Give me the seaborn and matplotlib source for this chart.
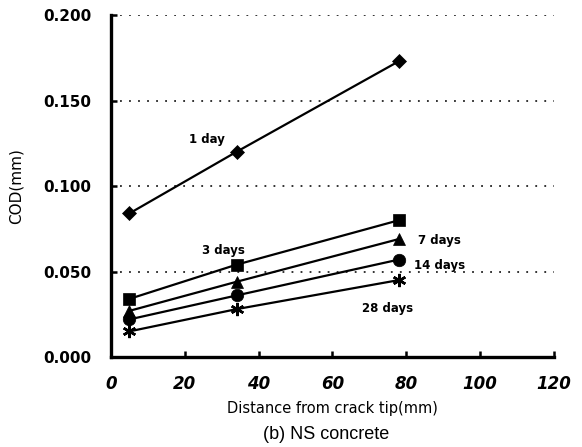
import numpy as np
import pandas as pd
import matplotlib
matplotlib.use("Agg")
import matplotlib.pyplot as plt
import seaborn as sns

# Data
distance = [5, 34, 78]
cod_1day = [0.084, 0.120, 0.173]
cod_3days = [0.034, 0.054, 0.080]
cod_7days = [0.027, 0.044, 0.069]
cod_14days = [0.022, 0.036, 0.057]
cod_28days = [0.015, 0.028, 0.045]
series_names = ["1 day", "3 days", "7 days", "14 days", "28 days"]
x_ticks = [0, 20, 40, 60, 80, 100, 120]
y_ticks = [0.0, 0.05, 0.10, 0.15, 0.20]

series_vals = [cod_1day, cod_3days, cod_7days, cod_14days, cod_28days]
df = pd.DataFrame({
    "x": np.tile(distance, len(series_names)),
    "y": np.concatenate(series_vals),
    "series": np.repeat(series_names, len(distance)),
})

sns.set_style("white")
plt.rcParams["font.family"] = ["DejaVu Sans"]
plt.rcParams["text.color"] = "black"
plt.rcParams["axes.labelcolor"] = "black"
plt.rcParams["xtick.color"] = "black"
plt.rcParams["ytick.color"] = "black"

fig = plt.figure(figsize=(5.82, 4.47), dpi=100)
ax = fig.add_axes([0.1907, 0.2013, 0.7612, 0.7651])

markers = {"1 day": "D", "3 days": "s", "7 days": "^", "14 days": "o", "28 days": (6, 2, 0)}
sizes = {"1 day": 7, "3 days": 8.5, "7 days": 8.5, "14 days": 9, "28 days": 9.5}
for name in series_names:
    sub = df[df["series"] == name]
    sns.lineplot(data=sub, x="x", y="y", ax=ax, color="black", linewidth=1.6,
                 marker=markers[name], markersize=sizes[name],
                 markeredgewidth=1.8 if name == "28 days" else 0.5,
                 markeredgecolor="black", markerfacecolor="black",
                 legend=False, zorder=3)

# Labels for series
label_pos = {"1 day": (26, 0.127), "3 days": (30.5, 0.0625), "7 days": (89, 0.068),
             "14 days": (89, 0.0535), "28 days": (75, 0.0285)}
for name, (lx, ly) in label_pos.items():
    ax.text(lx, ly, name, fontsize=8.5, fontweight="bold", ha="center", va="center")

ax.set_xlim(0, 120)
ax.set_ylim(0, 0.2)
ax.set_xticks(x_ticks)
ax.set_yticks(y_ticks)
ax.set_xticklabels([str(t) for t in x_ticks], fontsize=12, fontweight="bold", style="italic")
ax.set_yticklabels([f"{t:.3f}" for t in y_ticks], fontsize=11, fontweight="bold")

for yv in y_ticks[1:]:
    ax.axhline(yv, color="#222222", linewidth=1.3, linestyle=(0, (1, 4)), zorder=1)

for s in ["top", "right"]:
    ax.spines[s].set_visible(False)
for s in ["left", "bottom"]:
    ax.spines[s].set_linewidth(2.4)
    ax.spines[s].set_color("black")

ax.tick_params(axis="both", direction="in", length=4, width=1.8, color="black",
               bottom=True, left=True, top=False, right=False)
ax.tick_params(axis="y", pad=14)
ax.tick_params(axis="x", pad=13)

ax.set_xlabel("Distance from crack tip(mm)", fontsize=10.5, labelpad=6)
ax.set_ylabel("COD(mm)", fontsize=11, labelpad=14)

fig.text(0.56, 0.027, "(b) NS concrete", fontsize=13, ha="center", va="center",
         family=["Liberation Sans", "DejaVu Sans"])

fig.savefig("out.png", dpi=100)
